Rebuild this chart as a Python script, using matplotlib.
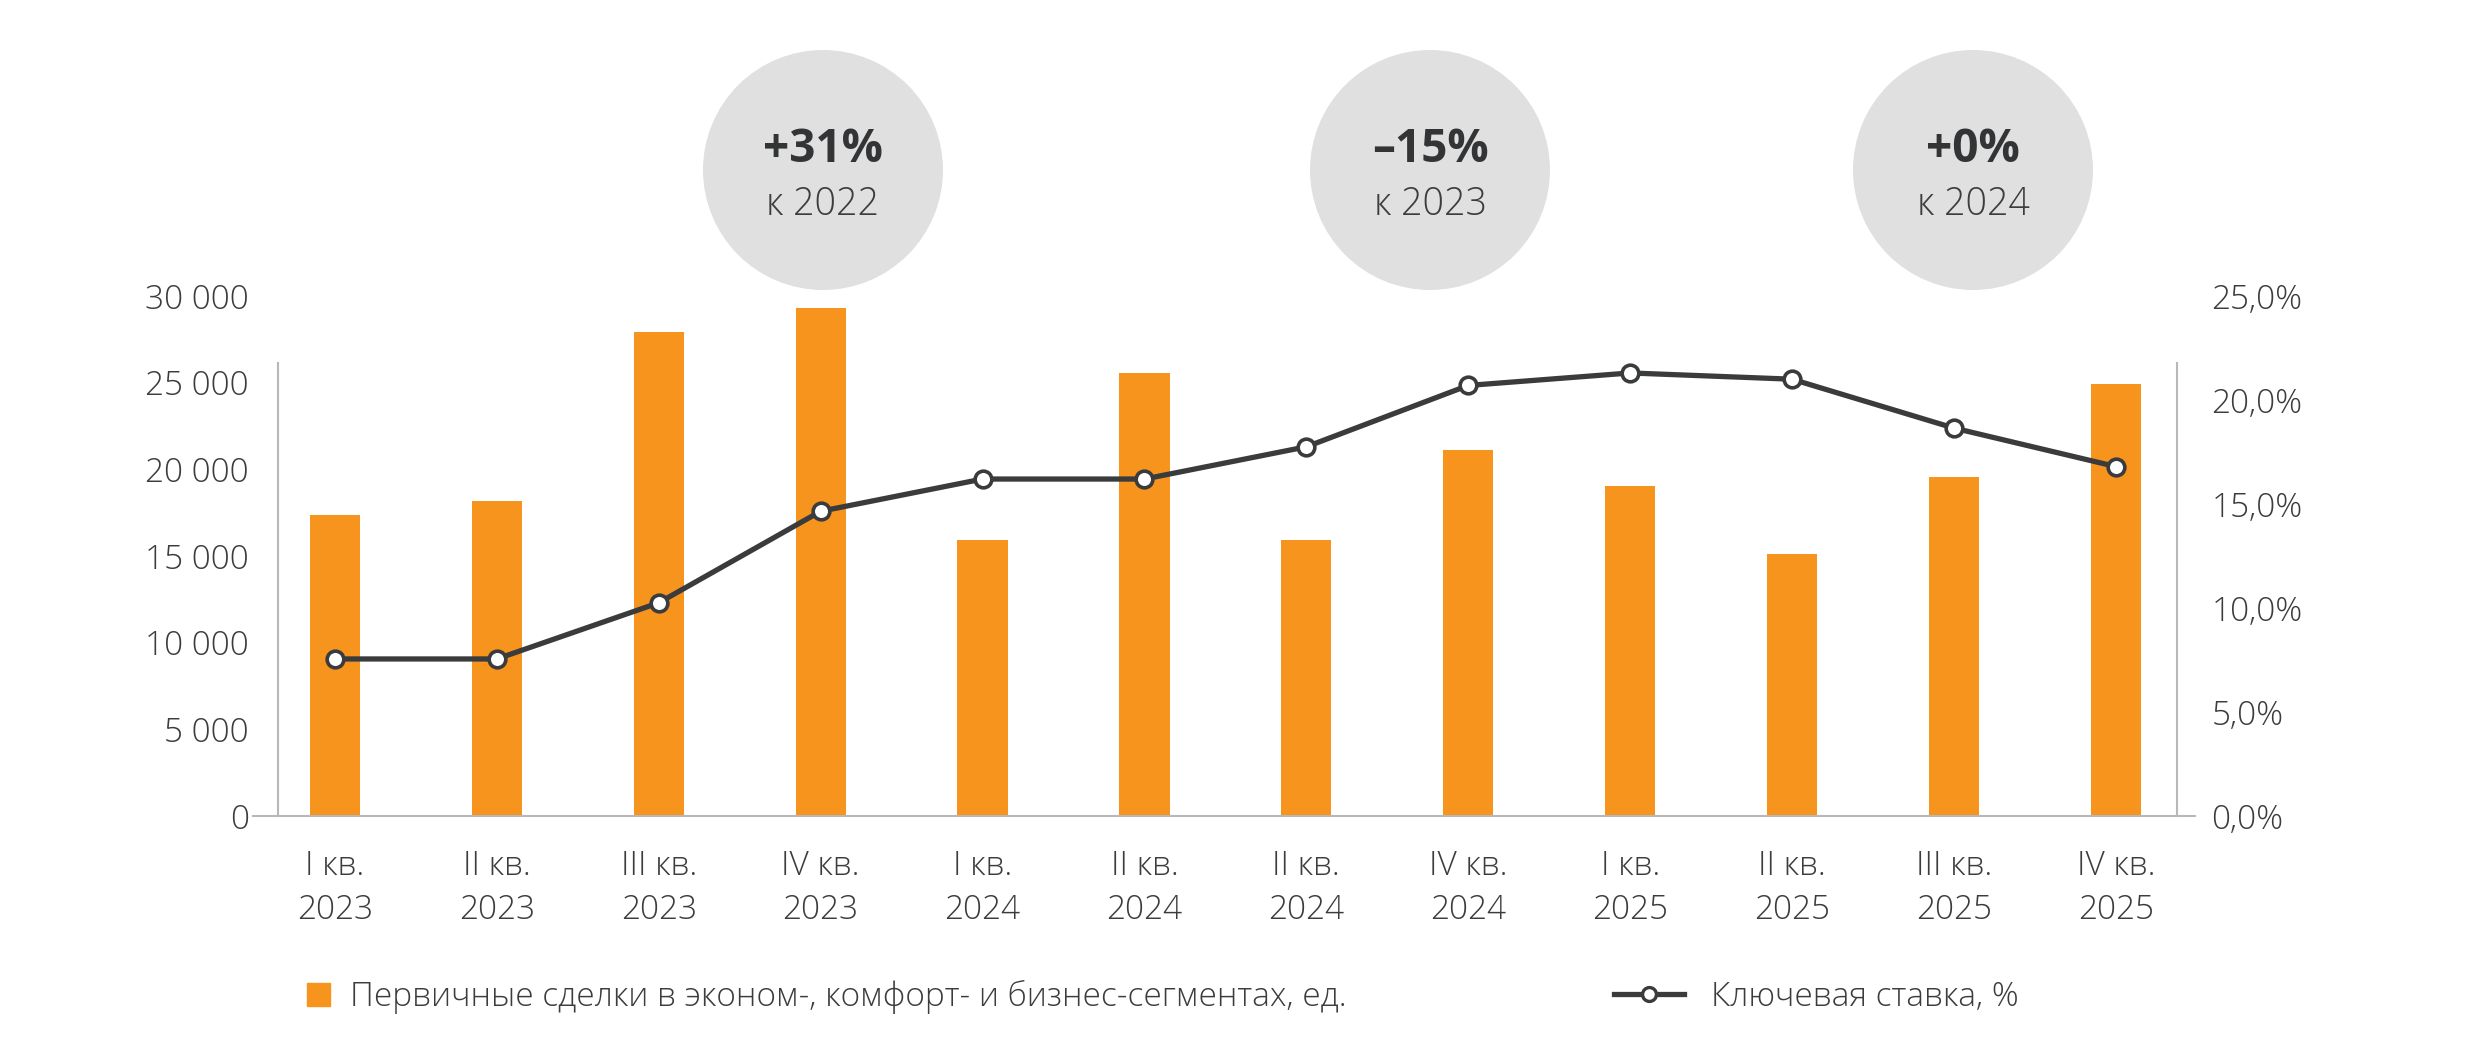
import numpy as np
import matplotlib.pyplot as plt
from matplotlib.patches import Circle, Patch
from matplotlib.lines import Line2D

plt.rcParams['font.family'] = ['Open Sans', 'DejaVu Sans']
plt.rcParams['font.weight'] = 'light'

# данные
kvartaly = ["I кв.\n2023", "II кв.\n2023", "III кв.\n2023", "IV кв.\n2023",
            "I кв.\n2024", "II кв.\n2024", "II кв.\n2024", "IV кв.\n2024",
            "I кв.\n2025", "II кв.\n2025", "III кв.\n2025", "IV кв.\n2025"]
sdelki = [17370, 18200, 27950, 29330, 15940, 25570, 15940, 21130,
          19010, 15100, 19560, 24930]
stavka = [7.55, 7.55, 10.25, 14.65, 16.2, 16.2, 17.75, 20.7, 21.3, 21.0, 18.65, 16.8]

levye_metki = [0, 5000, 10000, 15000, 20000, 25000, 30000]
pravye_metki = [0, 5, 10, 15, 20, 25]

vynoski_x = [823, 1430, 1973]
vynoski_big = ["+31%", "–15%", "+0%"]
vynoski_small = ["к 2022", "к 2023", "к 2024"]

legenda_bar = "Первичные сделки в эконом-, комфорт- и бизнес-сегментах, ед."
legenda_line = "Ключевая ставка, %"

ORANGE = "#F7941D"
DARK = "#3a3b3d"
TEXT = "#3c3c3c"
GRID = "#b8b8b8"
KRUG = "#e0e0e0"
FS = 24

W, H = 2478, 1044
fig = plt.figure(figsize=(W / 100, H / 100), dpi=100)

# фоновая ось для кругов
bg = fig.add_axes([0, 0, 1, 1], zorder=0)
bg.set_xlim(0, W)
bg.set_ylim(H, 0)
bg.axis("off")
for cx, big, small in zip(vynoski_x, vynoski_big, vynoski_small):
    bg.add_patch(Circle((cx, 170), 120, color=KRUG, lw=0))
    bg.text(cx, 150, big, ha="center", va="center", fontsize=33,
            fontweight="bold", color="#333436")
    bg.text(cx, 205, small, ha="center", va="center", fontsize=27,
            color=TEXT)

ax = fig.add_axes([253 / W, (H - 816) / H, (2195 - 253) / W, (816 - 296) / H], zorder=2)
ax.patch.set_alpha(0)
x = np.arange(len(kvartaly))
ax.bar(x, sdelki, width=0.31, color=ORANGE, zorder=2)
ax.set_xlim(-0.506, 11.489)
ax.set_ylim(0, 30000)
ax.set_yticks(levye_metki)
ax.set_yticklabels([f"{v:,}".replace(",", " ") for v in levye_metki])
ax.set_xticks(x)
ax.set_xticklabels(kvartaly, linespacing=1.42)
ax.tick_params(axis="y", length=0, pad=21, labelsize=FS, labelcolor=TEXT)
ax.tick_params(axis="x", length=0, pad=24, labelsize=FS, labelcolor=TEXT)
for s in ["top", "right"]:
    ax.spines[s].set_visible(False)
ax.spines["left"].set_position(("data", -0.352))
ax.spines["left"].set_bounds(0, 26130)
ax.spines["left"].set_color(GRID)
ax.spines["left"].set_linewidth(1.5)
ax.spines["bottom"].set_color(GRID)
ax.spines["bottom"].set_linewidth(1.5)

ax2 = ax.twinx()
ax2.plot(x, stavka, color=DARK, lw=3.8, marker="o", markersize=12,
         markerfacecolor="white", markeredgecolor=DARK, markeredgewidth=2.6, zorder=3)
ax2.set_ylim(0, 25)
ax2.set_yticks(pravye_metki)
ax2.set_yticklabels([f"{v:.1f}%".replace(".", ",") for v in pravye_metki])
ax2.tick_params(axis="y", length=0, pad=25, labelsize=FS, labelcolor=TEXT)
for s in ["top", "left", "bottom"]:
    ax2.spines[s].set_visible(False)
ax2.spines["right"].set_position(("data", 11.377))
ax2.spines["right"].set_bounds(0, 21.78)
ax2.spines["right"].set_color(GRID)
ax2.spines["right"].set_linewidth(1.5)

h1 = [Patch(color=ORANGE)]
h2 = [Line2D([], [], color=DARK, lw=3.8, marker="o", markersize=10,
             markerfacecolor="white", markeredgecolor=DARK, markeredgewidth=2.4)]
fig.legend(h1, [legenda_bar], loc="center left", bbox_to_anchor=(307 / W, (H - 997) / H),
           frameon=False, fontsize=FS, handlelength=0.7, handleheight=0.7,
           handletextpad=0.6, borderpad=0, borderaxespad=0, labelcolor=TEXT)
fig.legend(h2, [legenda_line], loc="center left", bbox_to_anchor=(1614 / W, (H - 997) / H),
           frameon=False, fontsize=FS, handlelength=2.1,
           handletextpad=0.8, borderpad=0, borderaxespad=0, labelcolor=TEXT)

fig.savefig("out.png", dpi=100)
